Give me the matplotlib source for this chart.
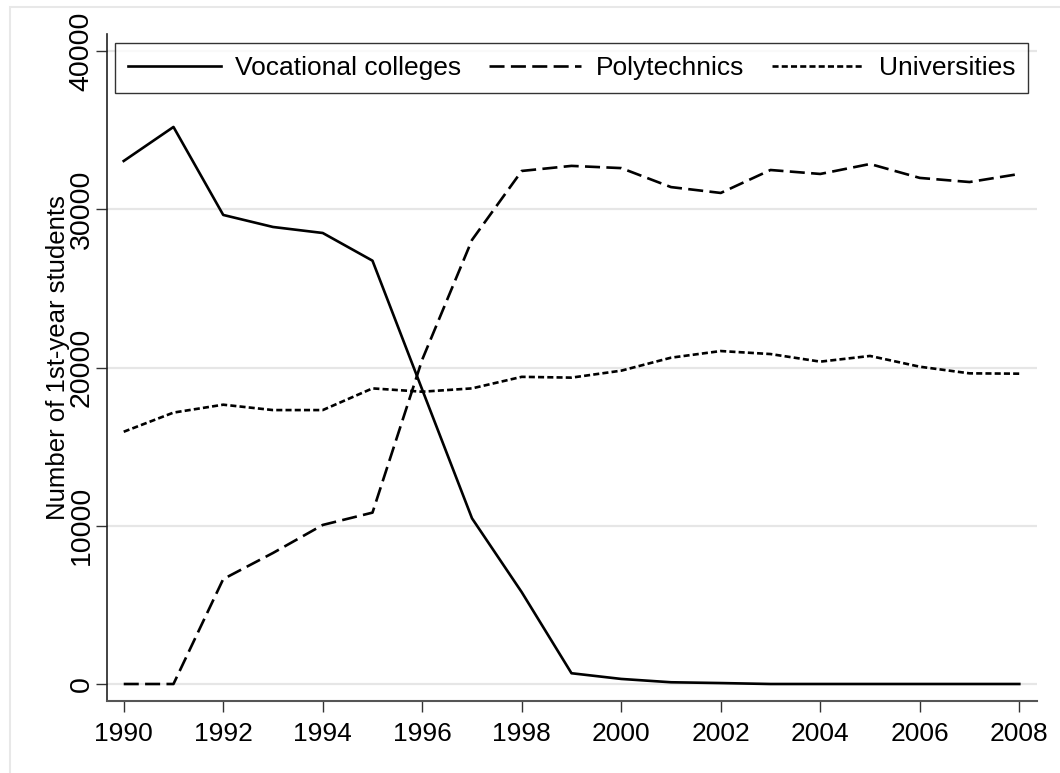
import numpy as np
import matplotlib
matplotlib.use('Agg')
import matplotlib.pyplot as plt
from matplotlib.patches import Rectangle

plt.rcParams['font.family'] = ['Liberation Sans', 'DejaVu Sans']

# data
years = list(range(1990, 2009))
vocational = [33050, 35200, 29640, 28880, 28500, 26750, 18600, 10470, 5800,
              680, 320, 110, 60, 0, 0, 0, 0, 0, 0]
polytechnics = [0, 0, 6630, 8280, 10050, 10830, 20500, 28060, 32420,
                32740, 32600, 31400, 31030, 32480, 32230, 32860, 31980, 31720, 32230]
universities = [15940, 17150, 17650, 17310, 17310, 18680, 18470, 18680, 19410,
                19360, 19800, 20620, 21040, 20850, 20370, 20730, 20050, 19630, 19610]
xticks = list(range(1990, 2009, 2))
yticks = [0, 10000, 20000, 30000, 40000]

fig = plt.figure(figsize=(10.6, 7.73), dpi=100)
ax = fig.add_axes([107/1060, 1 - 700.7/773, 930/1060, (700.7 - 34)/773])

# outer light frame
fig.patches.append(Rectangle((10/1060, -0.05), 1.2, 1.05 - 7/773, transform=fig.transFigure,
                             fill=False, edgecolor='#e8e8e8', linewidth=1.5))

for yv in yticks:
    ax.axhline(yv, color='#e6e6e6', linewidth=1.6, zorder=0)

lw = 1.9
ax.plot(years, vocational, color='black', linewidth=lw, label='Vocational colleges')
ax.plot(years, polytechnics, color='black', linewidth=lw, dashes=(5.7, 2.4),
        label='Polytechnics')
ax.plot(years, universities, color='black', linewidth=lw, dashes=(2.3, 1.2),
        label='Universities')

ax.set_xlim(1989.664, 2008.356)
ax.set_ylim(-1055, 41074)
ax.set_xticks(xticks)
ax.set_yticks(yticks)
ax.set_yticklabels([str(v) for v in yticks], rotation=90, va='center')
ax.tick_params(axis='both', length=8, width=1, color='#333333')
ax.tick_params(axis='x', labelsize=19, pad=7)
ax.tick_params(axis='y', labelsize=20.5, pad=1)

for s in ['top', 'right']:
    ax.spines[s].set_visible(False)
ax.spines['left'].set_color('#222222')
ax.spines['bottom'].set_color('#555555')
ax.spines['left'].set_linewidth(1.2)
ax.spines['bottom'].set_linewidth(1.5)

ax.set_ylabel('Number of 1st-year students', fontsize=18.5)
ax.yaxis.set_label_coords(-0.040, 0.515)

leg = ax.legend(loc='upper left', bbox_to_anchor=(115/1060, 1 - 43/773),
                bbox_transform=fig.transFigure, ncol=3, fontsize=19,
                frameon=True, fancybox=False, handlelength=3.5,
                handletextpad=0.55, columnspacing=1.05, borderpad=0.5,
                borderaxespad=0)
leg.get_frame().set_edgecolor('black')
leg.get_frame().set_linewidth(1.0)

fig.savefig('out.png', dpi=100)
